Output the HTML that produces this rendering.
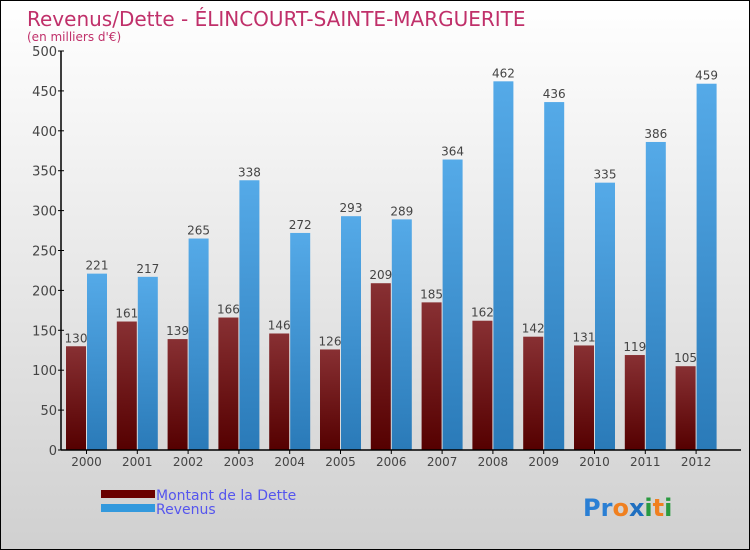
<!DOCTYPE html>
<html><head><meta charset="utf-8"><style>
body{margin:0}
#wrap{width:748px;height:548px;border:1px solid #000;background:linear-gradient(#fff,#d0d0d0);position:relative;overflow:hidden;font-family:"DejaVu Sans","Liberation Sans",sans-serif}
</style></head><body>
<div id="wrap">
<svg id="chart" width="748" height="548">
<text x="26" y="25" font-size="20" fill="#c0306a">Revenus/Dette - ÉLINCOURT-SAINTE-MARGUERITE</text>
<text x="26" y="40" font-size="12" fill="#c0306a">(en milliers d'€)</text>
<g id="plot"></g>
<rect x="100" y="489" width="54" height="8" fill="#6a0000"/>
<text x="155" y="499" font-size="14" fill="#5555ee">Montant de la Dette</text>
<rect x="100" y="503" width="54" height="8" fill="#3399dd"/>
<text x="155" y="513" font-size="14" fill="#5555ee">Revenus</text>
<text x="582" y="515" font-size="24" font-weight="bold"><tspan fill="#2a7fd4">Pr</tspan><tspan fill="#f08020">o</tspan><tspan fill="#1f6fc0">x</tspan><tspan fill="#2a9a40">i</tspan><tspan fill="#f08020">t</tspan><tspan fill="#2a9a40">i</tspan></text>
</svg>
</div>
<script>
const years=["2000","2001","2002","2003","2004","2005","2006","2007","2008","2009","2010","2011","2012"];
const dette=[130,161,139,166,146,126,209,185,162,142,131,119,105];
const revenus=[221,217,265,338,272,293,289,364,462,436,335,386,459];
const yTicks=[0,50,100,150,200,250,300,350,400,450,500];
const NS="http://www.w3.org/2000/svg";
const g=document.getElementById('plot');
const x0=60,y0=449,yTop=50,step=50.8;
const ys=v=>y0-(v/500)*(y0-yTop);
function mk(t,a){const e=document.createElementNS(NS,t);for(const k in a)e.setAttribute(k,a[k]);g.appendChild(e);return e;}
const defs=mk('defs',{});
defs.innerHTML='<linearGradient id="gd" x1="0" y1="0" x2="0" y2="1"><stop offset="0" stop-color="#883033"/><stop offset="1" stop-color="#550000"/></linearGradient><linearGradient id="gr" x1="0" y1="0" x2="0" y2="1"><stop offset="0" stop-color="#55aae8"/><stop offset="1" stop-color="#2a7ab8"/></linearGradient>';
yTicks.forEach(v=>{
 const t=mk('text',{x:x0-4,y:ys(v)+5,'font-size':13,fill:'#444','text-anchor':'end'});t.textContent=v;
 
 
 const l=mk('line',{x1:x0-3,x2:x0+3,y1:ys(v),y2:ys(v),stroke:'#000'});
 
 
});
years.forEach((yr,i)=>{
 const cx=x0+i*step;
 const bd=mk('rect',{x:cx+5,y:ys(dette[i]),width:20,height:y0-ys(dette[i]),fill:'url(#gd)'});
 
 
 const br=mk('rect',{x:cx+26,y:ys(revenus[i]),width:20,height:y0-ys(revenus[i]),fill:'url(#gr)'});
 
 
 const td=mk('text',{x:cx+15,y:ys(dette[i])-4,'font-size':12,fill:'#444','text-anchor':'middle'});td.textContent=dette[i];
 
 
 const tr=mk('text',{x:cx+36,y:ys(revenus[i])-4,'font-size':12,fill:'#444','text-anchor':'middle'});tr.textContent=revenus[i];
 
 
 const tx=mk('text',{x:cx+25.5,y:y0+16,'font-size':12,fill:'#444','text-anchor':'middle'});tx.textContent=yr;
 
 
 const tk=mk('line',{x1:cx+25.5,x2:cx+25.5,y1:y0,y2:y0+4,stroke:'#000'});
 
 
});
const ya=mk('line',{x1:x0,x2:x0,y1:yTop,y2:y0,stroke:'#000','stroke-width':1.5});


const xa=mk('line',{x1:x0,x2:740,y1:y0,y2:y0,stroke:'#000','stroke-width':1.5});


</script>
</body></html>
